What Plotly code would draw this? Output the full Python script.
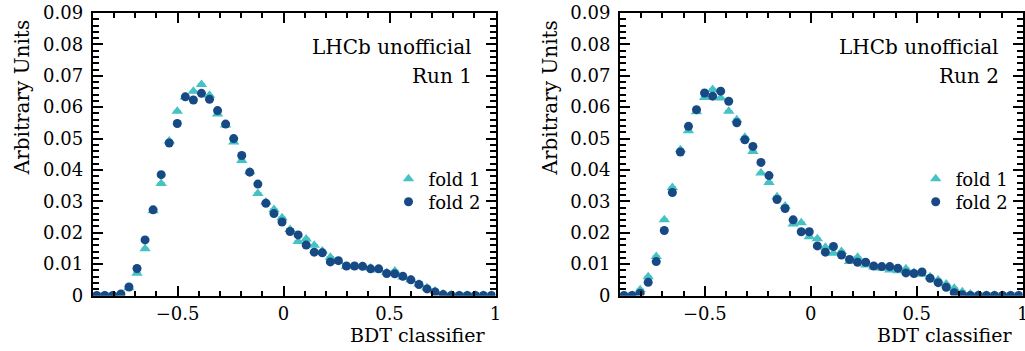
import numpy as np
import plotly.graph_objects as go

# ---- data ----
n_bins = 50
x_lo, x_hi = -0.9, 1.0
bin_w = (x_hi - x_lo) / n_bins
bin_centers = [round(x_lo + bin_w * (i + 0.5), 4) for i in range(n_bins)]

run1_fold1 = [0, 0, 0, 0.0003, 0.0025, 0.0071, 0.0149, 0.0270, 0.0357, 0.0492,
              0.0587, 0.0632, 0.0651, 0.0672, 0.0638, 0.0578, 0.0543, 0.0489, 0.0430, 0.0394,
              0.0325, 0.0298, 0.0274, 0.0248, 0.0210, 0.0172, 0.0180, 0.0160, 0.0142, 0.0122,
              0.0108, 0.0092, 0.0092, 0.0092, 0.0088, 0.0081, 0.0073, 0.0078, 0.0059, 0.0050,
              0.0037, 0.0025, 0.0014, 0.0005, 0.0002, 0.0001, 0.0001, 0.0001, 0.0001, 0.0001]
run1_fold2 = [0, 0, 0, 0.0005, 0.0027, 0.0086, 0.0177, 0.0273, 0.0385, 0.0486,
              0.0548, 0.0633, 0.0623, 0.0644, 0.0625, 0.0589, 0.0546, 0.0500, 0.0446, 0.0393,
              0.0355, 0.0294, 0.0261, 0.0234, 0.0204, 0.0193, 0.0161, 0.0138, 0.0136, 0.0107,
              0.0111, 0.0094, 0.0094, 0.0093, 0.0085, 0.0085, 0.0070, 0.0069, 0.0061, 0.0050,
              0.0035, 0.0021, 0.0011, 0.0003, 0, 0, 0, 0, 0, 0]
run2_fold1 = [0, 0.0001, 0.0018, 0.0060, 0.0124, 0.0241, 0.0344, 0.0464, 0.0525, 0.0585,
              0.0631, 0.0656, 0.0629, 0.0587, 0.0560, 0.0504, 0.0459, 0.0390, 0.0360, 0.0315,
              0.0285, 0.0228, 0.0232, 0.0187, 0.0181, 0.0154, 0.0135, 0.0140, 0.0108, 0.0122,
              0.0097, 0.0091, 0.0087, 0.0081, 0.0079, 0.0085, 0.0073, 0.0068, 0.0060, 0.0049,
              0.0037, 0.0023, 0.0012, 0.0005, 0.0002, 0.0001, 0.0001, 0.0001, 0.0001, 0.0001]
run2_fold2 = [0, 0, 0.0007, 0.0042, 0.0108, 0.0207, 0.0328, 0.0457, 0.0539, 0.0592,
              0.0645, 0.0635, 0.0651, 0.0619, 0.0550, 0.0496, 0.0475, 0.0424, 0.0382, 0.0306,
              0.0277, 0.0241, 0.0203, 0.0203, 0.0158, 0.0138, 0.0156, 0.0129, 0.0115, 0.0106,
              0.0106, 0.0094, 0.0092, 0.0092, 0.0087, 0.0072, 0.0070, 0.0075, 0.0055, 0.0041,
              0.0026, 0.0009, 0.0002, 0, 0, 0, 0, 0, 0, 0]

series_names = ["fold 1", "fold 2"]
panel_labels = ["Run 1", "Run 2"]
y_ticks = [0, 0.01, 0.02, 0.03, 0.04, 0.05, 0.06, 0.07, 0.08, 0.09]
x_ticks = [-0.5, 0, 0.5, 1]

# ---- style ----
TEAL = "#44c2c4"
DARK = "#174a85"
FONT = "DejaVu Serif"
W, H = 1025, 351


def px_x(p):
    return p / W


def px_y(p):
    return 1 - p / H


xdomains = [[px_x(92.7), px_x(495.5)], [px_x(620), px_x(1022.7)]]
ydomain = [px_y(295.5), px_y(13)]
legend_rows = [179, 202]

fig = go.Figure()

panels = [(run1_fold1, run1_fold2, "x", "y"),
          (run2_fold1, run2_fold2, "x2", "y2")]
legend_layout = {}
lg_idx = 0
for p, (f1, f2, xa, ya) in enumerate(panels):
    right_px = xdomains[p][1] * W
    for s, (vals, color, sym, size) in enumerate([(f1, TEAL, "triangle-up", 10),
                                                  (f2, DARK, "circle", 9)]):
        lg_idx += 1
        lg_name = "legend" if lg_idx == 1 else "legend%d" % lg_idx
        fig.add_trace(go.Scatter(
            x=bin_centers, y=vals, mode="markers", name=series_names[s],
            xaxis=xa, yaxis=ya, legend=lg_name,
            marker=dict(symbol=sym, size=size, color=color, line=dict(width=0)),
            error_x=dict(type="constant", value=bin_w / 2 * 0.9, color=color,
                         thickness=2.5, width=0),
        ))
        legend_layout[lg_name] = dict(
            bgcolor="rgba(0,0,0,0)", borderwidth=0, xanchor="right",
            yanchor="middle", itemwidth=30,
            x=px_x(right_px - 10), y=px_y(legend_rows[s]),
            font=dict(family=FONT, size=18, color="black"))

axis_common = dict(showline=True, linecolor="black", linewidth=2, mirror="allticks",
                   ticks="inside", ticklen=10, tickwidth=2, tickcolor="black",
                   showgrid=False, zeroline=False, automargin=False,
                   ticklabeloverflow="allow",
                   tickfont=dict(family=FONT, size=18, color="black"))

for k, dom in enumerate(xdomains):
    sfx = "" if k == 0 else str(k + 1)
    fig.layout["xaxis" + sfx] = dict(
        axis_common, domain=dom, range=[x_lo, x_hi], tickvals=x_ticks,
        anchor="y" + sfx, ticklabelstandoff=1,
        minor=dict(dtick=0.1, tick0=0, ticks="inside", ticklen=5, tickwidth=2,
                   tickcolor="black", showgrid=False))
    fig.layout["yaxis" + sfx] = dict(
        axis_common, domain=ydomain, range=[0, 0.09], tickvals=y_ticks,
        anchor="x" + sfx, ticklabelstandoff=4,
        minor=dict(dtick=0.002, tick0=0, ticks="inside", ticklen=6, tickwidth=2,
                   tickcolor="black", showgrid=False))

annotations = []
for k, dom in enumerate(xdomains):
    left = dom[0] * W
    right = dom[1] * W
    txt_font = dict(family=FONT, size=20, color="black")
    annotations.append(dict(text="Arbitrary Units", textangle=-90, x=px_x(left - 70.5),
                            y=px_y(98), xref="paper", yref="paper", showarrow=False,
                            xanchor="center", yanchor="middle", font=txt_font))
    annotations.append(dict(text="BDT classifier", x=px_x(right - 9), y=px_y(335),
                            xref="paper", yref="paper", showarrow=False,
                            xanchor="right", yanchor="middle",
                            font=dict(family=FONT, size=19, color="black")))
    annotations.append(dict(text="LHCb unofficial", x=px_x(right - 22), y=px_y(47),
                            xref="paper", yref="paper", showarrow=False,
                            xanchor="right", yanchor="middle", font=txt_font))
    annotations.append(dict(text=panel_labels[k], x=px_x(right - 22), y=px_y(76),
                            xref="paper", yref="paper", showarrow=False,
                            xanchor="right", yanchor="middle", font=txt_font))

fig.update_layout(
    width=W, height=H, margin=dict(l=0, r=0, t=0, b=0, autoexpand=False),
    paper_bgcolor="white", plot_bgcolor="white",
    annotations=annotations, showlegend=True,
    **legend_layout,
)

fig.write_html("out.html")
